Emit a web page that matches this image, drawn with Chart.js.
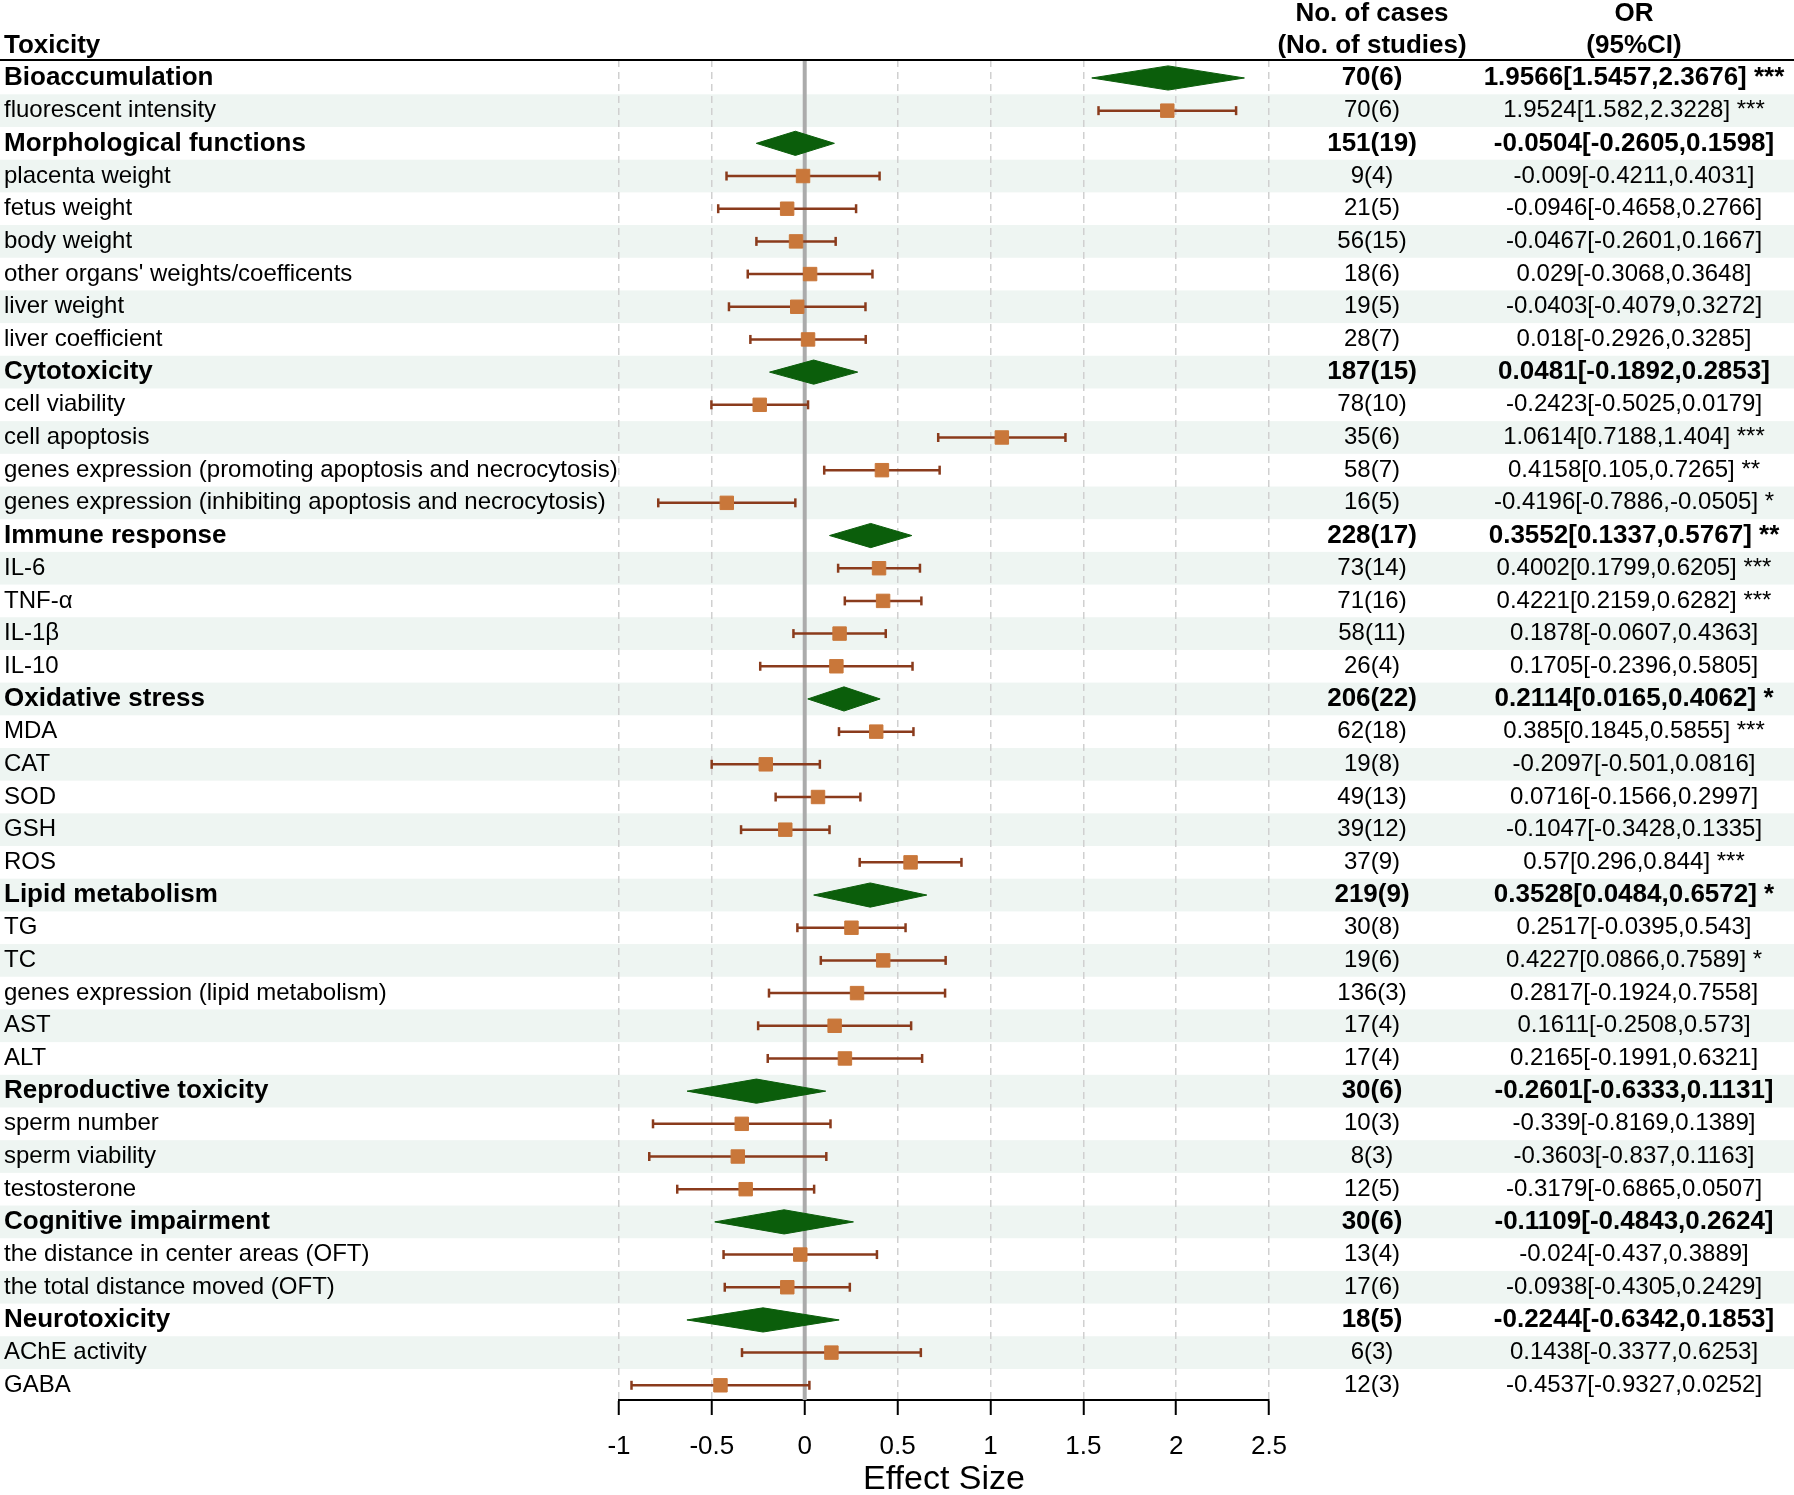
<!DOCTYPE html>
<html><head><meta charset="utf-8">
<script src="https://cdn.jsdelivr.net/npm/chart.js@4.4.0/dist/chart.umd.min.js"></script>
<style>html,body{margin:0;padding:0;background:#fff}canvas{display:block}</style>
</head><body>
<canvas id="c" width="1794" height="1495"></canvas>
<script>
// ---------- data ----------
const labels = [
  "Bioaccumulation","fluorescent intensity",
  "Morphological functions","placenta weight","fetus weight","body weight","other organs' weights/coefficents","liver weight","liver coefficient",
  "Cytotoxicity","cell viability","cell apoptosis","genes expression (promoting apoptosis and necrocytosis)","genes expression (inhibiting apoptosis and necrocytosis)",
  "Immune response","IL-6","TNF-\u03b1","IL-1\u03b2","IL-10",
  "Oxidative stress","MDA","CAT","SOD","GSH","ROS",
  "Lipid metabolism","TG","TC","genes expression (lipid metabolism)","AST","ALT",
  "Reproductive toxicity","sperm number","sperm viability","testosterone",
  "Cognitive impairment","the distance in center areas (OFT)","the total distance moved (OFT)",
  "Neurotoxicity","AChE activity","GABA"
];
const groupFlags = [1,0,1,0,0,0,0,0,0,1,0,0,0,0,1,0,0,0,0,1,0,0,0,0,0,1,0,0,0,0,0,1,0,0,0,1,0,0,1,0,0];
const est = [1.9566,1.9524,-0.0504,-0.009,-0.0946,-0.0467,0.029,-0.0403,0.018,0.0481,-0.2423,1.0614,0.4158,-0.4196,0.3552,0.4002,0.4221,0.1878,0.1705,0.2114,0.385,-0.2097,0.0716,-0.1047,0.57,0.3528,0.2517,0.4227,0.2817,0.1611,0.2165,-0.2601,-0.339,-0.3603,-0.3179,-0.1109,-0.024,-0.0938,-0.2244,0.1438,-0.4537];
const lo = [1.5457,1.582,-0.2605,-0.4211,-0.4658,-0.2601,-0.3068,-0.4079,-0.2926,-0.1892,-0.5025,0.7188,0.105,-0.7886,0.1337,0.1799,0.2159,-0.0607,-0.2396,0.0165,0.1845,-0.501,-0.1566,-0.3428,0.296,0.0484,-0.0395,0.0866,-0.1924,-0.2508,-0.1991,-0.6333,-0.8169,-0.837,-0.6865,-0.4843,-0.437,-0.4305,-0.6342,-0.3377,-0.9327];
const hi = [2.3676,2.3228,0.1598,0.4031,0.2766,0.1667,0.3648,0.3272,0.3285,0.2853,0.0179,1.404,0.7265,-0.0505,0.5767,0.6205,0.6282,0.4363,0.5805,0.4062,0.5855,0.0816,0.2997,0.1335,0.844,0.6572,0.543,0.7589,0.7558,0.573,0.6321,0.1131,0.1389,0.1163,0.0507,0.2624,0.3889,0.2429,0.1853,0.6253,0.0252];
const cases = [70,70,151,9,21,56,18,19,28,187,78,35,58,16,228,73,71,58,26,206,62,19,49,39,37,219,30,19,136,17,17,30,10,8,12,30,13,17,18,6,12];
const studies = [6,6,19,4,5,15,6,5,7,15,10,6,7,5,17,14,16,11,4,22,18,8,13,12,9,9,8,6,3,4,4,6,3,3,5,6,4,6,5,3,3];
const stars = ['***','***','','','','','','','','','','***','**','*','**','***','***','','','*','***','','','','***','*','','*','','','','','','','','','','','','',''];
const xTicks = [-1,-0.5,0,0.5,1,1.5,2,2.5];
const xTickLabels = ['-1','-0.5','0','0.5','1','1.5','2','2.5'];
const headerLeft = 'Toxicity';
const headerCases = ['No. of cases','(No. of studies)'];
const headerOR = ['OR','(95%CI)'];
const axisTitle = 'Effect Size';

// ---------- style ----------
const FONT = '"Liberation Sans", Arial, Helvetica, sans-serif';
const GREEN = '#0b5e0b', ORANGE = '#c9773a', BROWN = '#8a3b1c', SHADE = '#eef5f2';
const GRID = '#d0d0d0', ZERO = '#ababab';
const Y_MIN = -0.55, Y_MAX = 40.45, DH = 0.37;
const CASES_X = 1372, OR_X = 1634;

const rows = labels.map((_, i) => i);
const groupIdx = rows.filter(i => groupFlags[i]);
const itemIdx = rows.filter(i => !groupFlags[i]);

const diamondSets = groupIdx.map(i => ({
  type: 'line',
  data: [{x: lo[i], y: i}, {x: est[i], y: i - DH}, {x: hi[i], y: i}, {x: est[i], y: i + DH}, {x: lo[i], y: i}],
  borderColor: GREEN, borderWidth: 1, backgroundColor: GREEN, fill: 'shape',
  pointRadius: 0, tension: 0, order: 1
}));

const datasets = [
  {type: 'line', data: [{x: 0, y: Y_MIN}, {x: 0, y: Y_MAX}], borderColor: ZERO, borderWidth: 4, pointRadius: 0, fill: false, order: 9},
  {type: 'line', data: itemIdx.flatMap(i => [{x: lo[i], y: i}, {x: hi[i], y: i}, {x: hi[i], y: null}]),
   borderColor: BROWN, borderWidth: 2.5, pointRadius: 0, spanGaps: false, fill: false, order: 3},
  {type: 'scatter', data: itemIdx.flatMap(i => [{x: lo[i], y: i}, {x: hi[i], y: i}]),
   pointStyle: 'line', rotation: 90, pointRadius: 4.5, borderColor: BROWN, borderWidth: 2.5, order: 2},
  {type: 'scatter', data: itemIdx.map(i => ({x: est[i], y: i})),
   pointStyle: 'rect', pointRadius: 9.5, backgroundColor: ORANGE, borderColor: ORANGE, borderWidth: 1, order: 0},
  ...diamondSets
];

const textPlugin = {
  id: 'forestText',
  beforeDraw(chart) {
    const {ctx} = chart;
    const y = chart.scales.y;
    const step = Math.abs(y.getPixelForValue(1) - y.getPixelForValue(0));
    ctx.save();
    ctx.fillStyle = '#ffffff';
    ctx.fillRect(0, 0, chart.width, chart.height);
    ctx.fillStyle = SHADE;
    rows.forEach(i => {
      if (i % 2 === 1) {
        const py = y.getPixelForValue(i);
        ctx.fillRect(0, py - step / 2, chart.width, step);
      }
    });
    ctx.restore();
  },
  afterDraw(chart) {
    const {ctx, chartArea} = chart;
    const y = chart.scales.y;
    ctx.save();
    ctx.fillStyle = '#000';
    ctx.textBaseline = 'middle';
    // headers
    ctx.font = 'bold 26px ' + FONT;
    ctx.textAlign = 'left';
    ctx.fillText(headerLeft, 4, 46);
    ctx.textAlign = 'center';
    ctx.fillText(headerCases[0], CASES_X, 14);
    ctx.fillText(headerCases[1], CASES_X, 46);
    ctx.fillText(headerOR[0], OR_X, 14);
    ctx.fillText(headerOR[1], OR_X, 46);
    // header line
    ctx.strokeStyle = '#000';
    ctx.lineWidth = 2;
    ctx.beginPath();
    ctx.moveTo(0, chartArea.top);
    ctx.lineTo(chart.width, chartArea.top);
    ctx.stroke();
    // right columns
    rows.forEach(i => {
      const py = y.getPixelForValue(i);
      ctx.font = (groupFlags[i] ? 'bold 26px ' : '24px ') + FONT;
      ctx.fillText(cases[i] + '(' + studies[i] + ')', CASES_X, py);
      const orTxt = est[i] + '[' + lo[i] + ',' + hi[i] + ']' + (stars[i] ? ' ' + stars[i] : '');
      ctx.fillText(orTxt, OR_X, py);
    });
    ctx.restore();
  }
};

Chart.defaults.font.family = FONT;
Chart.defaults.color = '#000';

new Chart(document.getElementById('c'), {
  type: 'scatter',
  data: {datasets},
  options: {
    responsive: false,
    maintainAspectRatio: false,
    devicePixelRatio: 1,
    animation: false,
    events: [],
    layout: {padding: {left: 4, right: 525, top: 60, bottom: 0}},
    plugins: {legend: {display: false}, tooltip: {enabled: false}, title: {display: false}},
    scales: {
      x: {
        type: 'linear', position: 'bottom', min: -1, max: 2.5,
        afterBuildTicks: s => { s.ticks = xTicks.map(v => ({value: v})); },
        afterFit: s => { s.height = 95; },
        ticks: {callback: (v, i) => xTickLabels[i], font: {size: 26}, color: '#000', padding: 16, maxRotation: 0, autoSkip: false},
        grid: {
          color: c => (c.tick && c.tick.value === 0) ? 'rgba(0,0,0,0)' : GRID,
          lineWidth: 1.5, drawTicks: true, tickLength: 15, tickColor: '#000', tickWidth: 2,
          borderDash: [7, 5]
        },
        border: {display: true, color: '#000', width: 2, dash: [7, 5]},
        title: {display: true, text: axisTitle, font: {size: 34, lineHeight: 0.9}, color: '#000', padding: {top: 0, bottom: 0}}
      },
      y: {
        type: 'linear', position: 'left', reverse: true, min: Y_MIN, max: Y_MAX,
        afterBuildTicks: s => { s.ticks = rows.map(v => ({value: v})); },
        afterFit: s => { s.width = 615; },
        ticks: {
          autoSkip: false, crossAlign: 'far', color: '#000',
          callback: v => labels[v],
          font: c => groupFlags[c.index] ? {size: 26, weight: 'bold'} : {size: 24, weight: 'normal'}
        },
        grid: {display: false, drawTicks: false},
        border: {display: false}
      }
    }
  },
  plugins: [textPlugin]
});
</script>
</body></html>
